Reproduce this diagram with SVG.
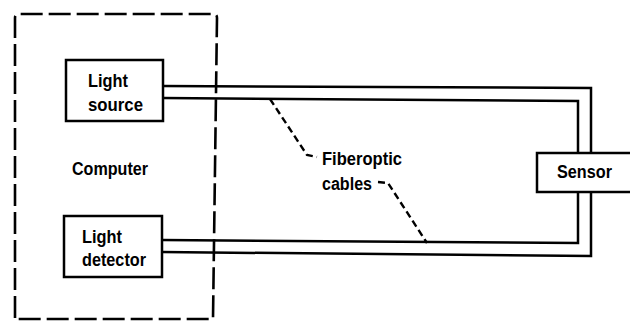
<svg xmlns="http://www.w3.org/2000/svg" width="630" height="321" viewBox="0 0 630 321">
  <style>
    .box { fill: #fff; stroke: #000; stroke-width: 2.5; }
    .cable { fill: none; stroke: #000; stroke-width: 2.5; }
    .leader { fill: none; stroke: #000; stroke-width: 2.4; stroke-dasharray: 7 4; }
    .frame { fill: none; stroke: #000; stroke-width: 2.6; stroke-dasharray: 22 6; }
    .lbl { font-family: "Liberation Sans", Arial, sans-serif; font-weight: bold; font-size: 18px; fill: #000; }
  </style>
  <rect width="630" height="321" fill="#fff"/>

  <g id="connectors">
    <path class="cable" d="M163,86 L591,88 L591,153"/>
    <path class="cable" d="M163,98 L578,101 L578,153"/>
    <path class="cable" d="M162,240 L578,243 L578,192"/>
    <path class="cable" d="M162,252 L591,256 L591,192"/>
    <path class="leader" d="M270,99 L307,155 L317,157"/>
    <path class="leader" d="M378,182 L388,183 L427,243"/>
  </g>

  <g id="computer">
    <path class="frame" d="M15,318 L15,18 Q15,14 19,14 L213,14 Q217,14 217,18 L213,319 L15,319"/>
    <text class="lbl" x="72" y="175" textLength="76" lengthAdjust="spacingAndGlyphs">Computer</text>
  </g>

  <g id="light-source">
    <rect class="box" x="66" y="60" width="97" height="61"/>
    <text class="lbl" x="88" y="87" textLength="40" lengthAdjust="spacingAndGlyphs">Light</text>
    <text class="lbl" x="88" y="111" textLength="55" lengthAdjust="spacingAndGlyphs">source</text>
  </g>

  <g id="light-detector">
    <rect class="box" x="64" y="216" width="98" height="61"/>
    <text class="lbl" x="82" y="243" textLength="40" lengthAdjust="spacingAndGlyphs">Light</text>
    <text class="lbl" x="82" y="266" textLength="64" lengthAdjust="spacingAndGlyphs">detector</text>
  </g>

  <g id="sensor">
    <rect class="box" x="537" y="153" width="100" height="39"/>
    <text class="lbl" x="557" y="178" textLength="55" lengthAdjust="spacingAndGlyphs">Sensor</text>
  </g>

  <g id="fiberoptic-label">
    <text class="lbl" x="322" y="165" textLength="80" lengthAdjust="spacingAndGlyphs">Fiberoptic</text>
    <text class="lbl" x="322" y="190" textLength="50" lengthAdjust="spacingAndGlyphs">cables</text>
  </g>
</svg>
